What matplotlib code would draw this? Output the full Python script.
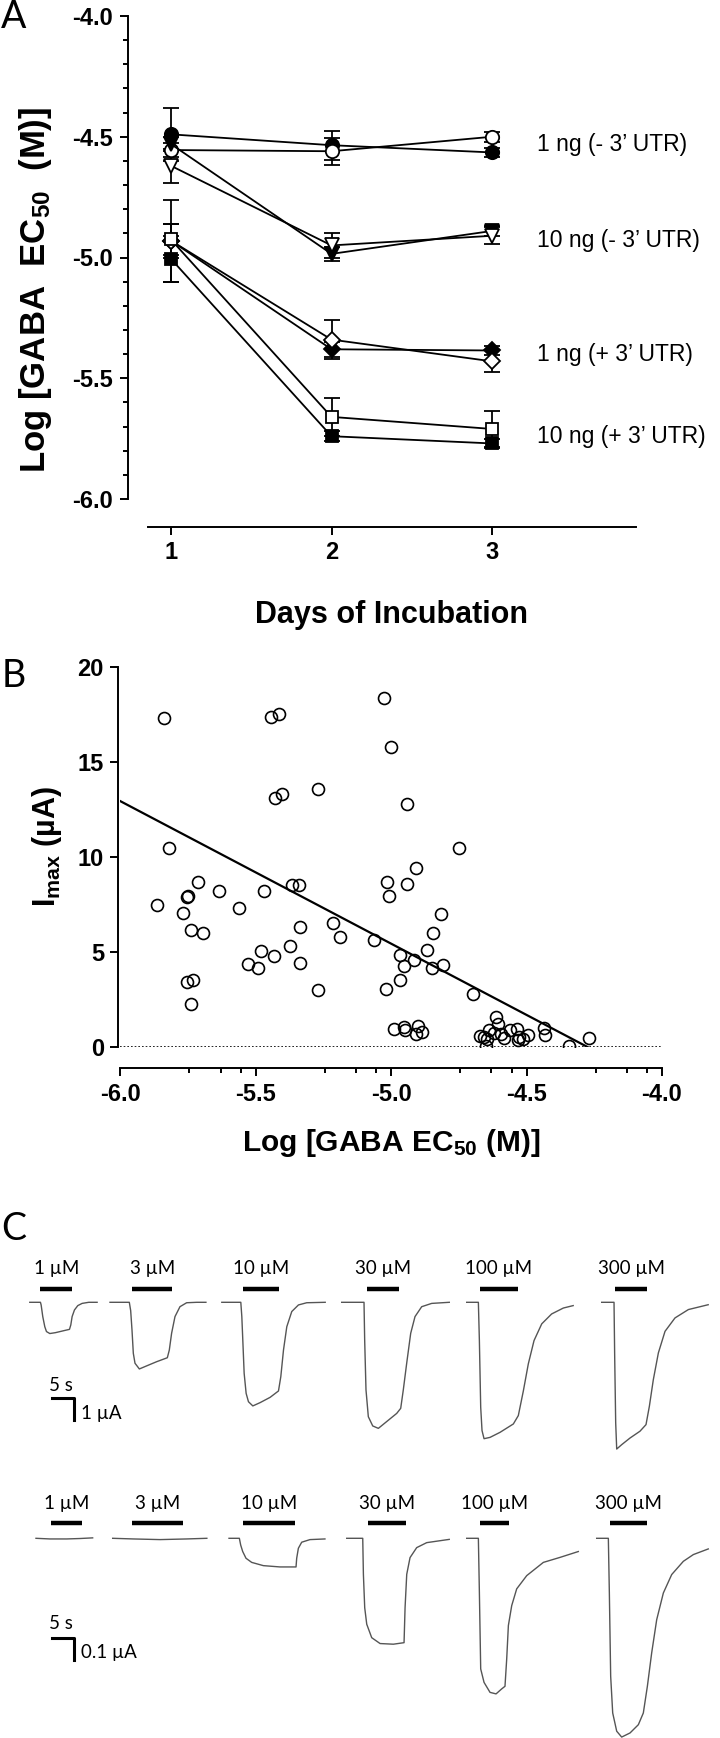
import matplotlib
matplotlib.use("Agg")
import matplotlib.pyplot as plt
from matplotlib import font_manager
from matplotlib.ticker import MultipleLocator

W, H = 720, 1738

# ---------------- fonts
names = {f.name for f in font_manager.fontManager.ttflist}
SANS = "Liberation Sans"
LABEL_FONT = "Lato" if "Lato" in names else "DejaVu Sans"
plt.rcParams["axes.unicode_minus"] = False
plt.rcParams["mathtext.default"] = "regular"

# ---------------- panel A data (Log EC50 vs days)
days = [1, 2, 3]
circle_open = [-4.555, -4.56, -4.50]
circle_open_err = [0.03, 0.055, 0.02]
circle_filled = [-4.49, -4.535, -4.565]
circle_filled_err = [0.11, 0.06, 0.02]
tri_open = [-4.62, -4.95, -4.91]
tri_open_err = [0.07, 0.05, 0.035]
tri_filled = [-4.53, -4.985, -4.89]
tri_filled_err = [0.03, 0.03, 0.02]
diam_open = [-4.93, -5.34, -5.43]
diam_open_err = [0.07, 0.08, 0.045]
diam_filled = [-4.93, -5.38, -5.385]
diam_filled_err = [0.17, 0.03, 0.02]
sq_open = [-4.925, -5.66, -5.71]
sq_open_err = [0.065, 0.08, 0.075]
sq_filled = [-5.005, -5.74, -5.77]
sq_filled_err = [0.095, 0.02, 0.02]
group_labels = ["1 ng (- 3\u2019 UTR)", "10 ng (- 3\u2019 UTR)",
                "1 ng (+ 3\u2019 UTR)", "10 ng (+ 3\u2019 UTR)"]

# ---------------- panel B data (Imax vs Log EC50)
ec50 = [-5.837, -5.444, -5.415, -5.027, -5.000, -5.427, -5.403, -5.271, -4.942, -5.820,
        -4.749, -4.907, -5.015, -4.942, -5.007, -5.366, -5.339, -5.712, -5.634, -5.468,
        -5.754, -5.750, -5.864, -5.768, -4.817, -5.563, -5.739, -5.695, -5.337, -5.214,
        -5.190, -4.847, -5.063, -5.373, -5.481, -4.868, -5.434, -4.966, -4.914, -5.529,
        -5.492, -5.336, -4.953, -4.851, -4.810, -4.969, -5.020, -5.271, -5.753, -5.732,
        -5.739, -4.698, -4.990, -4.953, -4.949, -4.902, -4.910, -4.885, -4.614, -4.605,
        -4.673, -4.656, -4.651, -4.647, -4.639, -4.622, -4.593, -4.583, -4.563, -4.537,
        -4.529, -4.512, -4.495, -4.532, -4.436, -4.431, -4.342, -4.271]
imax = [17.28, 17.38, 17.51, 18.35, 15.76, 13.07, 13.28, 13.59, 12.80, 10.49,
        10.49, 9.41, 8.66, 8.57, 7.93, 8.54, 8.50, 8.68, 8.19, 8.22,
        7.89, 7.95, 7.49, 7.06, 7.02, 7.32, 6.13, 6.01, 6.31, 6.53,
        5.80, 5.98, 5.61, 5.30, 5.05, 5.09, 4.79, 4.84, 4.56, 4.36,
        4.13, 4.43, 4.27, 4.13, 4.32, 3.52, 3.03, 3.00, 3.40, 3.52,
        2.26, 2.79, 0.96, 1.05, 0.87, 1.11, 0.66, 0.78, 1.57, 1.22,
        0.56, 0.52, 0.03, 0.44, 0.87, 0.73, 0.66, 0.49, 0.91, 0.96,
        0.52, 0.44, 0.61, 0.35, 1.01, 0.61, 0.03, 0.49]
fit_x = [-6.0, -4.275]
fit_y = [12.93, 0.0]

# ---------------- panel C data (current traces, time in s, current in uA)
conc_labels = ["1 \u00b5M", "3 \u00b5M", "10 \u00b5M", "30 \u00b5M", "100 \u00b5M", "300 \u00b5M"]

top_t = [
    [0, 2.42, 2.58, 2.95, 3.41, 3.79, 4.55, 5.83, 7.73, 9.02, 9.32, 9.62, 10.15, 10.91, 11.89, 13.4, 15.3],
    [0, 4.39, 4.7, 5.0, 5.3, 5.68, 6.67, 8.33, 10.6, 13.03, 13.48, 14.0, 14.77, 15.9, 17.42, 19.7, 21.8],
    [0, 4.32, 4.55, 4.77, 5.08, 5.53, 6.06, 7.05, 8.71, 10.98, 12.88, 13.41, 14.02, 14.77, 15.9, 17.42, 19.3, 23.5],
    [0, 5.07, 5.22, 5.52, 6.05, 7.05, 8.33, 10.23, 12.5, 13.41, 14.0, 14.77, 15.68, 16.66, 18.18, 20.45, 24.45],
    [0, 2.65, 2.88, 3.18, 3.48, 3.94, 5.3, 7.58, 10.6, 11.73, 12.88, 14.0, 15.3, 17.05, 19.3, 21.97, 24.2],
    [0, 2.8, 2.95, 3.18, 3.41, 4.55, 6.43, 8.7, 10.07, 10.83, 11.73, 12.88, 14.39, 16.66, 19.7, 24.2],
]
top_i = [
    [0, 0, -0.12, -0.65, -1.11, -1.33, -1.42, -1.38, -1.29, -1.23, -1.03, -0.65, -0.35, -0.15, -0.05, 0, 0],
    [0, 0, -0.38, -1.26, -2.32, -2.77, -3.03, -2.89, -2.70, -2.52, -2.17, -1.41, -0.65, -0.2, -0.02, 0, 0],
    [0, 0, -0.65, -1.71, -3.23, -4.14, -4.52, -4.71, -4.56, -4.32, -4.03, -3.38, -2.17, -1.11, -0.42, -0.12, -0.02, 0],
    [0, 0, -1.71, -3.98, -5.2, -5.62, -5.73, -5.42, -5.05, -4.82, -3.98, -2.77, -1.41, -0.65, -0.2, -0.05, 0],
    [0, 0, -1.74, -4.77, -5.83, -6.2, -6.14, -5.91, -5.53, -5.15, -4.02, -2.8, -1.74, -0.98, -0.53, -0.26, -0.15],
    [0, 0, -2.45, -5.48, -6.67, -6.47, -6.17, -5.86, -5.56, -4.73, -3.52, -2.30, -1.32, -0.71, -0.33, -0.11],
]
top_bars = [(2.4, 9.6), (5.05, 14.1), (4.9, 13.0), (5.8, 13.1), (3.0, 11.6), (3.07, 10.4)]

bot_t = [
    [0, 3.18, 6.97, 10.0, 12.88],
    [0, 4.7, 10.76, 16.8, 21.4],
    [0, 2.35, 2.65, 3.11, 3.86, 5.15, 7.8, 11.6, 15.23, 15.38, 15.76, 16.52, 18.4, 21.8],
    [0, 3.64, 3.79, 4.09, 4.55, 5.68, 7.58, 10.6, 13.03, 13.26, 13.64, 14.39, 15.9, 18.18, 23.3],
    [0, 2.65, 2.88, 3.18, 3.94, 5.3, 6.67, 7.95, 8.7, 9.09, 9.47, 10.23, 11.36, 13.64, 17.42, 21.2, 25.36],
    [0, 2.65, 2.88, 3.18, 3.64, 4.55, 5.68, 7.58, 9.47, 10.6, 11.52, 12.5, 13.64, 15.15, 17.05, 19.7, 21.97, 25.36],
]
bot_i = [
    [0, -0.003, -0.003, -0.001, 0.002],
    [0, -0.003, -0.006, -0.003, 0],
    [0, 0, -0.031, -0.061, -0.092, -0.111, -0.126, -0.132, -0.132, -0.092, -0.046, -0.018, -0.006, -0.003],
    [0, 0, -0.166, -0.32, -0.396, -0.458, -0.485, -0.488, -0.481, -0.32, -0.166, -0.089, -0.043, -0.02, -0.005],
    [0, 0, -0.249, -0.602, -0.664, -0.71, -0.717, -0.694, -0.682, -0.556, -0.402, -0.31, -0.233, -0.172, -0.111, -0.088, -0.061],
    [0, 0, -0.252, -0.636, -0.805, -0.889, -0.916, -0.897, -0.859, -0.805, -0.682, -0.528, -0.375, -0.252, -0.167, -0.106, -0.075, -0.049],
]
bot_bars = [(3.4, 10.4), (4.4, 15.9), (3.25, 15.0), (4.9, 13.5), (3.0, 9.5), (2.95, 11.5)]


def box(left, top, right, bottom):
    return [left / W, 1 - bottom / H, (right - left) / W, (bottom - top) / H]


def fpos(x, y):
    return x / W, 1 - y / H


fig = plt.figure(figsize=(W / 100, H / 100), dpi=100)

# =====================================================
# A
# =====================================================
axA = fig.add_axes(box(148, 16, 636, 499))
series = [
    (circle_filled, circle_filled_err, "o", "k", 9.6),
    (circle_open, circle_open_err, "o", "white", 9.6),
    (tri_filled, tri_filled_err, "v", "k", 9.6),
    (tri_open, tri_open_err, "v", "white", 9.6),
    (diam_filled, diam_filled_err, "D", "k", 8.3),
    (diam_open, diam_open_err, "D", "white", 8.3),
    (sq_filled, sq_filled_err, "s", "k", 9),
    (sq_open, sq_open_err, "s", "white", 9),
]
for vals, err, mk, fc, ms in series:
    axA.errorbar(days, vals, yerr=err, color="k", lw=1.3, marker=mk, mfc=fc, mec="k",
                 mew=1.3, ms=ms, capsize=6, capthick=1.3, elinewidth=1.3)

axA.set_xlim(0.858, 3.895)
axA.set_ylim(-6.0, -4.0)
axA.spines[["top", "right"]].set_visible(False)
axA.spines["left"].set_position(("outward", 14.7))
axA.spines["bottom"].set_position(("outward", 20))
for s in ["left", "bottom"]:
    axA.spines[s].set_linewidth(1.4)
axA.set_xticks(days)
axA.set_xticklabels(["1", "2", "3"])
axA.set_yticks([-6.0, -5.5, -5.0, -4.5, -4.0])
axA.set_yticklabels(["-6.0", "-5.5", "-5.0", "-4.5", "-4.0"])
axA.yaxis.set_minor_locator(MultipleLocator(0.1))
axA.tick_params(axis="both", which="major", length=5.5, width=1.4, labelsize=17, pad=5)
axA.tick_params(axis="y", which="minor", length=3.5, width=1.4)
for lab in axA.get_xticklabels() + axA.get_yticklabels():
    lab.set_fontfamily(SANS)
    lab.set_fontweight("bold")

for lab, y in zip(group_labels, [145, 241, 355, 437]):
    fig.text(*fpos(537, y), lab, family=SANS, fontsize=16.5, va="center", ha="left")

fig.text(*fpos(392, 615), "Days of Incubation", family=SANS, fontweight="bold",
         fontsize=22, ha="center", va="center")
fig.text(*fpos(36, 290), "Log [GABA  EC$_{50}$  (M)]", family=SANS,
         fontweight="bold", fontsize=25, rotation=90, ha="center", va="center")
fig.text(*fpos(14, 28), "A", family=LABEL_FONT, fontsize=27, ha="center", va="baseline")

# =====================================================
# B
# =====================================================
axB = fig.add_axes(box(120.3, 666.7, 662, 1047))
axB.axhline(0, color="k", lw=1.2, ls=(0, (1, 1.2)))
axB.plot(fit_x, fit_y, color="k", lw=1.6)
axB.plot(ec50, imax, ls="none", marker="o", ms=8.6, mfc="none", mec="k", mew=1.2)
axB.set_xlim(-6.0, -4.0)
axB.set_ylim(0, 20)
axB.spines[["top", "right"]].set_visible(False)
axB.spines["left"].set_position(("outward", 1.3))
axB.spines["bottom"].set_position(("outward", 15.3))
for s in ["left", "bottom"]:
    axB.spines[s].set_linewidth(1.4)
axB.set_xticks([-6.0, -5.5, -5.0, -4.5, -4.0])
axB.set_xticklabels(["-6.0", "-5.5", "-5.0", "-4.5", "-4.0"])
axB.set_xticks([-5.745, -5.63, -5.555, -5.245, -5.13, -5.055,
                -4.745, -4.63, -4.555, -4.245, -4.13, -4.055], minor=True)
axB.set_yticks([0, 5, 10, 15, 20])
axB.tick_params(axis="both", which="major", length=5.5, width=1.4, labelsize=17, pad=5)
axB.tick_params(axis="x", which="minor", length=3.5, width=1.4)
for lab in axB.get_xticklabels() + axB.get_yticklabels():
    lab.set_fontfamily(SANS)
    lab.set_fontweight("bold")

fig.text(*fpos(391, 1143), "Log [GABA EC$_{50}$ (M)]", family=SANS, fontweight="bold",
         fontsize=21.5, ha="center", va="center")
fig.text(*fpos(47, 846), "I$_{max}$ (\u00b5A)", family=SANS, fontweight="bold",
         fontsize=22, rotation=90, ha="center", va="center")
fig.text(*fpos(14, 687), "B", family=LABEL_FONT, fontsize=27, ha="center", va="baseline")

# =====================================================
# C
# =====================================================
fig.text(*fpos(14, 1240), "C", family=LABEL_FONT, fontsize=27, ha="center", va="baseline")

top_start = [6.77, 25.0, 50.41, 77.66, 106.07, 136.75]
bot_start = [8.18, 25.61, 52.05, 78.80, 106.07, 135.61]


def trace_row(ax, starts, ts, cur, bars, lab_y, bar_y):
    for x0, t, i, (b0, b1), lab in zip(starts, ts, cur, bars, conc_labels):
        ax.plot([x0 + v for v in t], i, color="#555555", lw=1.0)
        ax.plot([x0 + b0, x0 + b1], [bar_y, bar_y], color="k", lw=3.2, solid_capstyle="butt")
        ax.text(x0 + (b0 + b1) / 2, lab_y, lab, family=LABEL_FONT, fontsize=13.5,
                ha="center", va="center")
    ax.set_xlim(0, W / 4.4)
    ax.axis("off")


axC1 = fig.add_axes(box(0, 1240, 720, 1480))
axC1.set_ylim(-(1480 - 1302.3) / 22, (1302.3 - 1240) / 22)
trace_row(axC1, top_start, top_t, top_i, top_bars, 1.55, 0.59)
axC1.plot([11.75, 16.8, 16.8], [-4.36, -4.36, -5.36], color="k", lw=2.2)
axC1.text(13.9, -3.8, "5 s", family=LABEL_FONT, fontsize=13.5, ha="center", va="center")
axC1.text(18.3, -5.05, "1 \u00b5A", family=LABEL_FONT, fontsize=13.5, ha="left", va="center")

axC2 = fig.add_axes(box(0, 1480, 720, 1738))
axC2.set_ylim(-(1738 - 1538.3) / 217, (1538.3 - 1480) / 217)
trace_row(axC2, bot_start, bot_t, bot_i, bot_bars, 0.161, 0.072)
axC2.plot([11.75, 16.8, 16.8], [-0.461, -0.461, -0.561], color="k", lw=2.2)
axC2.text(13.9, -0.392, "5 s", family=LABEL_FONT, fontsize=13.5, ha="center", va="center")
axC2.text(18.3, -0.527, "0.1 \u00b5A", family=LABEL_FONT, fontsize=13.5, ha="left", va="center")

fig.savefig("out.png", dpi=100)
